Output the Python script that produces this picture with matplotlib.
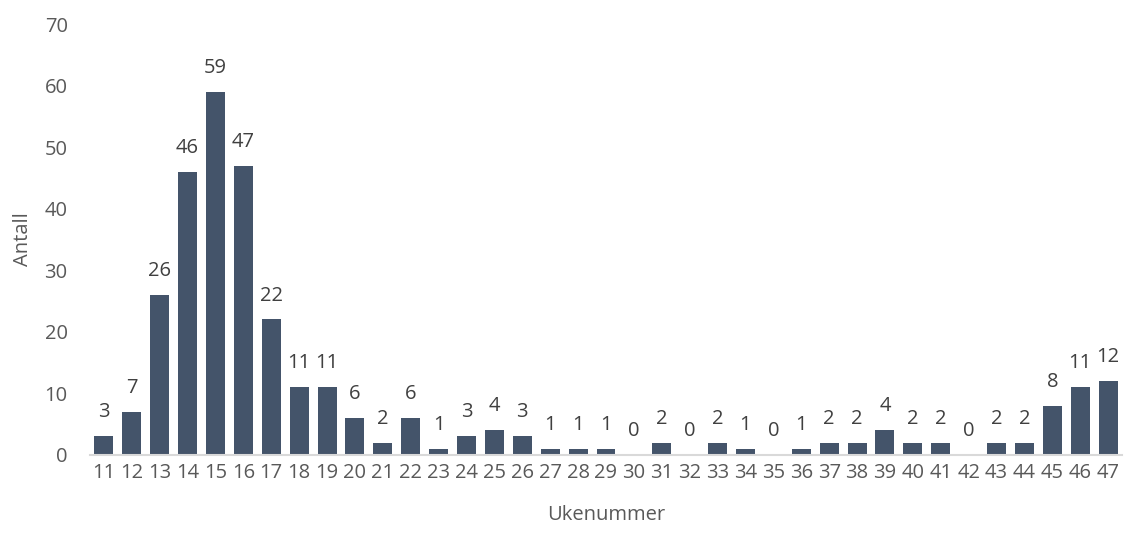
import matplotlib.pyplot as plt
import matplotlib

matplotlib.rc('font', family='Open Sans')

weeks = list(range(11, 48))
counts = [3, 7, 26, 46, 59, 47, 22, 11, 11, 6,
          2, 6, 1, 3, 4, 3, 1, 1, 1, 0,
          2, 0, 2, 1, 0, 1, 2, 2, 4, 2,
          2, 0, 2, 2, 8, 11, 12]
yticks = [0, 10, 20, 30, 40, 50, 60, 70]

text_color = '#595959'

fig = plt.figure(figsize=(11.38, 5.37), dpi=100)
ax = fig.add_axes([0.079, 0.153, 0.907, 0.802])

xs = list(range(len(weeks)))
bars = ax.bar(xs, counts, width=0.68, color='#44546A')

for x, c in zip(xs, counts):
    ax.annotate(str(c), (x, c), xytext=(0, 10), textcoords='offset points',
                ha='center', va='bottom', fontsize=14.5, color='#404040')

ax.set_xlim(-0.5, len(weeks) - 0.5)
ax.set_ylim(0, 70)
ax.set_xticks(xs)
ax.set_xticklabels([str(w) for w in weeks])
ax.set_yticks(yticks)

for side in ['top', 'right', 'left']:
    ax.spines[side].set_visible(False)
ax.spines['bottom'].set_color('#D9D9D9')
ax.spines['bottom'].set_linewidth(1.5)

ax.tick_params(axis='both', length=0, labelsize=14.5, labelcolor=text_color)
ax.tick_params(axis='x', pad=6)
ax.tick_params(axis='y', pad=16)

ax.set_xlabel('Ukenummer', fontsize=14.5, color=text_color, labelpad=16)
ax.set_ylabel('Antall', fontsize=14.5, color=text_color, labelpad=8)

plt.savefig('out.png', dpi=100)
